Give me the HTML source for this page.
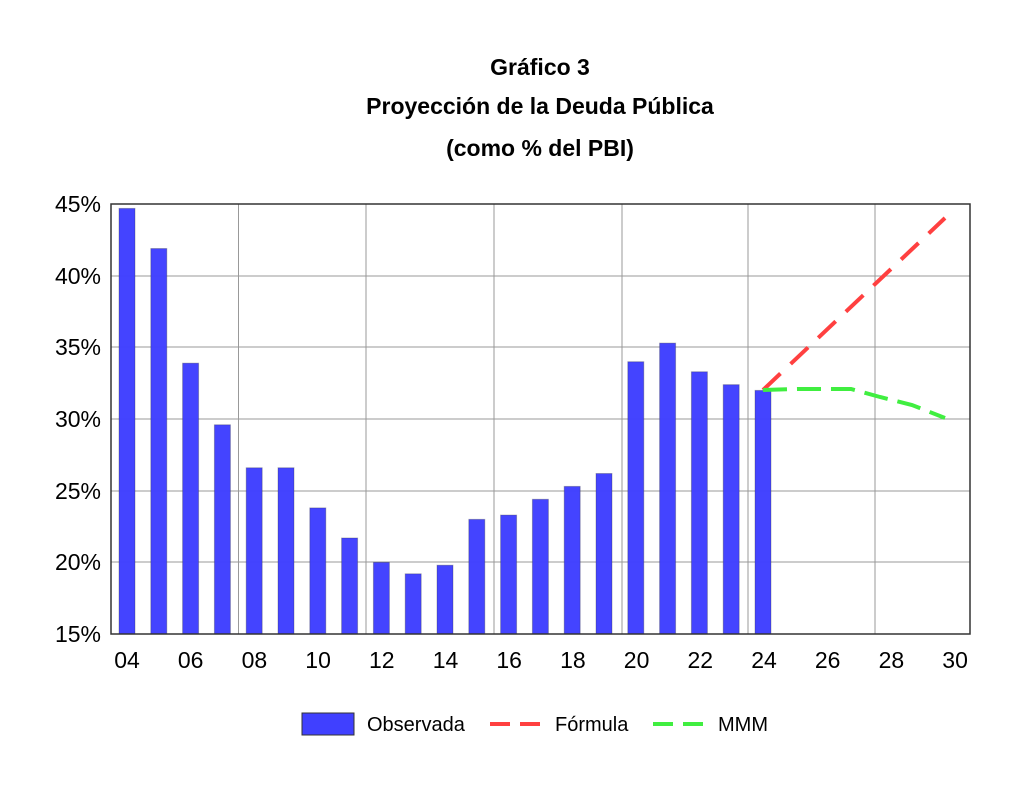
<!DOCTYPE html>
<html><head><meta charset="utf-8"><style>body{margin:0;background:#fff}</style></head><body>
<svg width="1024" height="798" xmlns="http://www.w3.org/2000/svg" font-family="'Liberation Sans', 'DejaVu Sans', sans-serif">
<rect width="1024" height="798" fill="#fff"/>
<g font-weight="bold" font-size="23" text-anchor="middle" fill="#000">
<text x="540" y="75">Gráfico 3</text>
<text x="540" y="114">Proyección de la Deuda Pública</text>
<text x="540" y="156">(como % del PBI)</text>
</g>
<g stroke="#999" stroke-width="1">
<line x1="111" y1="276" x2="970" y2="276"/><line x1="111" y1="347" x2="970" y2="347"/>
<line x1="111" y1="419" x2="970" y2="419"/><line x1="111" y1="491" x2="970" y2="491"/>
<line x1="111" y1="562" x2="970" y2="562"/>
<line x1="238.5" y1="204" x2="238.5" y2="634"/><line x1="366" y1="204" x2="366" y2="634"/>
<line x1="494" y1="204" x2="494" y2="634"/><line x1="622" y1="204" x2="622" y2="634"/>
<line x1="748" y1="204" x2="748" y2="634"/><line x1="875" y1="204" x2="875" y2="634"/>
</g>
<g id="bars" fill="#4040ff" fill-opacity="0.98" stroke="#333" stroke-opacity="0.3" stroke-width="1"></g>
<rect x="111" y="204" width="859" height="430" fill="none" stroke="#333" stroke-width="1.5"/>
<polyline points="763,390 945,218" fill="none" stroke="#ff4040" stroke-width="4" stroke-dasharray="24,14"/>
<polyline points="763,390 797,389 829,389 851,389 880,397 912,405 945,418" fill="none" stroke="#40ee40" stroke-width="4" stroke-dasharray="24,10"/>
<g font-size="23" fill="#000" text-anchor="end">
<text x="101" y="212">45%</text><text x="101" y="284">40%</text><text x="101" y="355">35%</text>
<text x="101" y="427">30%</text><text x="101" y="499">25%</text><text x="101" y="570">20%</text><text x="101" y="642">15%</text>
</g>
<g id="xl" font-size="23" fill="#000" text-anchor="middle"></g>
<rect x="302" y="713" width="52" height="22" fill="#4040ff" stroke="#333" stroke-width="1"/>
<text x="367" y="731" font-size="20">Observada</text>
<line x1="490" y1="724" x2="545" y2="724" stroke="#ff4040" stroke-width="4" stroke-dasharray="20,10"/>
<text x="555" y="731" font-size="20">Fórmula</text>
<line x1="653" y1="724" x2="708" y2="724" stroke="#40ee40" stroke-width="4" stroke-dasharray="20,10"/>
<text x="718" y="731" font-size="20">MMM</text>
<script>
var v=[44.7,41.9,33.9,29.6,26.6,26.6,23.8,21.7,20.0,19.2,19.8,23.0,23.3,24.4,25.3,26.2,34.0,35.3,33.3,32.4,32.0];
var g=document.getElementById('bars'),ns='http://www.w3.org/2000/svg';
v.forEach(function(d,i){var r=document.createElementNS(ns,'rect');var c=127+31.8*i;var y=634-(d-15)*14.33;
r.setAttribute('x',c-8);r.setAttribute('y',y);r.setAttribute('width',16);r.setAttribute('height',634-y);g.appendChild(r);});
var xl=document.getElementById('xl');
for(var k=0;k<14;k++){var t=document.createElementNS(ns,'text');var yr=4+2*k;t.setAttribute('x',127+63.7*k);t.setAttribute('y',668);t.textContent=(yr<10?'0':'')+yr;xl.appendChild(t);}
</script>
</svg>
</body></html>
